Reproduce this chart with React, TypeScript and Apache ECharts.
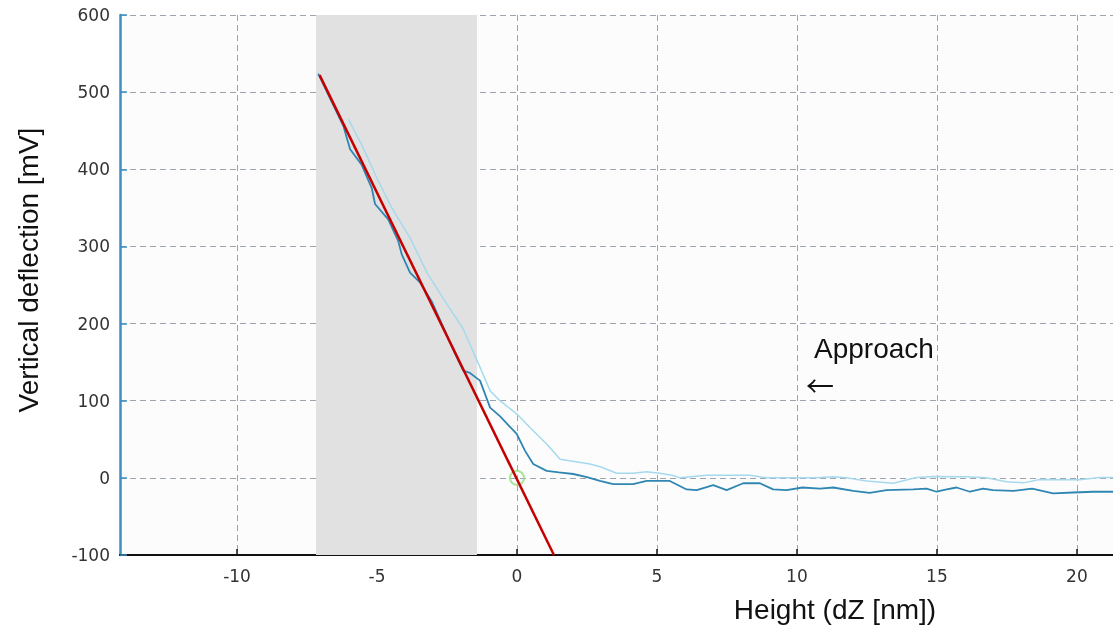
import React, { useEffect, useRef } from "react";
import * as echarts from "echarts";

// Dark blue curve (x in nm, y in mV)
const darkX = [-7.1, -6.6, -6.2, -6.08, -5.96, -5.55, -5.3, -5.19, -5.07, -4.6, -4.24, -4.12, -3.82, -3.46, -3.05, -2.63, -2.2, -1.92, -1.68, -1.32, -0.96, -0.61, -0.3, -0.01, 0.29, 0.58, 1.06, 1.5, 2.01, 2.5, 2.96, 3.44, 4.15, 4.63, 5.46, 6.06, 6.42, 7.01, 7.49, 8.08, 8.68, 9.15, 9.63, 10.2, 10.82, 11.3, 12.01, 12.6, 13.2, 14.15, 14.63, 14.99, 15.35, 15.7, 16.18, 16.65, 17.0, 17.72, 18.4, 19.15, 19.87, 20.58, 21.3];
const darkY = [524, 486, 456, 441, 426, 406, 385, 376, 355, 335, 307, 290, 266, 253, 229, 195, 160, 139, 136, 126, 91, 80, 68, 57, 35, 18, 9, 7, 5, 1, -4, -8, -8, -4, -4, -15, -16, -9.5, -16, -7, -7, -15, -16, -12.5, -14, -12.5, -17, -19.5, -16, -15, -14, -18, -15, -12.5, -18, -14, -16, -17, -14, -20, -19, -18, -18];

// Light blue curve
const lightX = [-6.02, -5.5, -5.01, -4.5, -3.82, -3.2, -2.57, -1.92, -1.4, -0.96, -0.61, -0.01, 0.5, 1.06, 1.54, 2.1, 2.61, 3.0, 3.56, 4.15, 4.63, 5.1, 5.58, 5.82, 6.77, 8.32, 8.92, 10.7, 11.3, 11.77, 12.49, 13.44, 14.27, 14.87, 16.06, 16.77, 17.49, 18.08, 18.68, 19.63, 20.1, 20.82, 21.3];
const lightY = [465, 428, 389, 352, 311, 265, 229, 193, 150, 113, 100, 83, 64, 44, 24, 21, 18, 14, 6, 6, 8, 6, 3, 0, 3.4, 3.4, 0, 0, 1.3, 0, -4, -7, 0.4, 1.7, 1.3, 0, -5, -6.5, -2, -2.6, -2.6, 0.4, 0.4];

// Linear fit line (red)
const fitX = [-7.05, 1.32];
const fitY = [522, -100];

// Contact point
const contactPoint = [0, 0];

// Shaded fit region
const fitRange = [-7.18, -1.43];

// Axis ranges
const xRange = [-14.18, 21.29];
const yRange = [-100, 600];

const zip = (xs: number[], ys: number[]) => xs.map((x, i) => [x, ys[i]]);

export default function App() {
  const ref = useRef<HTMLDivElement>(null);
  useEffect(() => {
    if (!ref.current) return;
    const chart = echarts.init(ref.current, undefined, { renderer: "svg" });
    const gridLine = { show: true, lineStyle: { color: "#9ca5ae", type: [6, 4] as any, width: 1 } };
    chart.setOption({
      animation: false,
      grid: {
        left: 120, right: 0, top: 15, bottom: 75,
        show: true, backgroundColor: "#fcfcfc", borderWidth: 0,
      },
      xAxis: {
        type: "value",
        min: xRange[0], max: xRange[1],
        splitNumber: 7,
        axisLine: { show: true, onZero: false, lineStyle: { color: "#111", width: 2 } },
        axisTick: { show: true, inside: true, length: 6, lineStyle: { color: "#111", width: 1.5 } },
        axisLabel: { showMinLabel: false, showMaxLabel: false, color: "#333", fontFamily: "DejaVu Sans", fontSize: 17, margin: 12 },
        splitLine: gridLine,
      },
      yAxis: {
        type: "value",
        min: yRange[0], max: yRange[1], interval: 100,
        axisLine: { show: true, onZero: false, lineStyle: { color: "#3b8fc1", width: 2.5 } },
        axisTick: { show: true, inside: true, length: 7, lineStyle: { color: "#3b8fc1", width: 1.5 } },
        axisLabel: { color: "#333", fontFamily: "DejaVu Sans", fontSize: 17, margin: 10 },
        splitLine: gridLine,
      },
      series: [
        {
          type: "line",
          data: zip(lightX, lightY),
          showSymbol: false,
          lineStyle: { color: "#a6d9ee", width: 1.5 },
          z: 2,
          markArea: {
            silent: true,
            itemStyle: { color: "#e1e1e1" },
            data: [[{ xAxis: fitRange[0] }, { xAxis: fitRange[1] }]],
          },
        },
        {
          type: "line",
          data: zip(darkX, darkY),
          showSymbol: false,
          lineStyle: { color: "#2f86b2", width: 1.8 },
          z: 3,
        },
        {
          type: "line",
          data: zip(fitX, fitY),
          showSymbol: false,
          lineStyle: { color: "#c40000", width: 2.5 },
          z: 4,
        },
        {
          type: "scatter",
          data: [contactPoint],
          symbol: "circle",
          symbolSize: 14,
          itemStyle: { color: "rgba(0,0,0,0)", borderColor: "#90e07f", borderWidth: 2 },
          z: 3,
        },
      ],
      graphic: [
        {
          type: "text", x: 28, y: 270, rotation: Math.PI / 2,
          style: { text: "Vertical deflection [mV]", fontFamily: "Liberation Sans", fontSize: 28, fill: "#111", textAlign: "center", textVerticalAlign: "middle" },
        },
        {
          type: "text", x: 835, y: 609,
          style: { text: "Height (dZ [nm])", fontFamily: "Liberation Sans", fontSize: 28, fill: "#111", textAlign: "center", textVerticalAlign: "middle" },
        },
        {
          type: "text", x: 814, y: 348,
          style: { text: "Approach", fontFamily: "Liberation Sans", fontSize: 28, fill: "#111", textAlign: "left", textVerticalAlign: "middle" },
        },
        {
          type: "text", x: 806, y: 385,
          style: { text: "←", fontFamily: "Noto Sans CJK SC", fontSize: 28, fill: "#111", textAlign: "left", textVerticalAlign: "middle" },
        },
      ],
    });
    return () => chart.dispose();
  }, []);
  return <div ref={ref} style={{ position: "fixed", left: 0, top: 0, width: 1113, height: 630 }} />;
}
